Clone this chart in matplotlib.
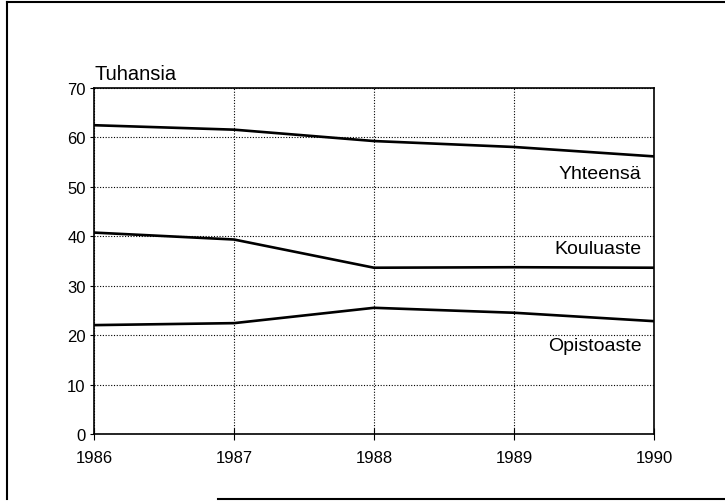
import matplotlib.pyplot as plt
from matplotlib.lines import Line2D

plt.rcParams['font.family'] = ['Liberation Sans', 'DejaVu Sans']

years = [1986, 1987, 1988, 1989, 1990]
yhteensa = [62.4, 61.5, 59.2, 58.0, 56.1]
kouluaste = [40.7, 39.3, 33.6, 33.7, 33.6]
opistoaste = [22.0, 22.4, 25.5, 24.5, 22.8]

series_names = ['Yhteensä', 'Kouluaste', 'Opistoaste']
label_y = [52.7, 37.5, 17.8]

fig = plt.figure(figsize=(7.25, 5.02), dpi=100)
ax = fig.add_axes([0.1297, 0.1335, 0.7723, 0.69])

for vals in (yhteensa, kouluaste, opistoaste):
    ax.plot(years, vals, color='black', lw=1.9)

for name, ly in zip(series_names, label_y):
    ax.text(1989.91, ly, name, ha='right', va='center', fontsize=14)

ax.set_xlim(1986, 1990)
ax.set_ylim(0, 70)
ax.set_xticks(years)
ax.set_yticks(range(0, 71, 10))
ax.grid(True, color='black', linestyle=(0, (1, 1.5)), lw=0.8)
ax.tick_params(axis='x', direction='inout', length=9, labelsize=12, pad=7)
ax.tick_params(axis='y', direction='out', length=3, labelsize=12, pad=3)
for s in ax.spines.values():
    s.set_linewidth(1.2)

ax.text(0, 1.012, 'Tuhansia', transform=ax.transAxes, ha='left', va='bottom', fontsize=14.5)

# outer frame of the scanned page
for xs, ys in (([0.009, 0.009], [0.003, 0.994]), ([0.009, 1.0], [0.994, 0.994]),
               ([0.3, 1.0], [0.003, 0.003])):
    fig.add_artist(Line2D(xs, ys, color='black', lw=1.5, transform=fig.transFigure))

fig.savefig('out.png', dpi=100)
